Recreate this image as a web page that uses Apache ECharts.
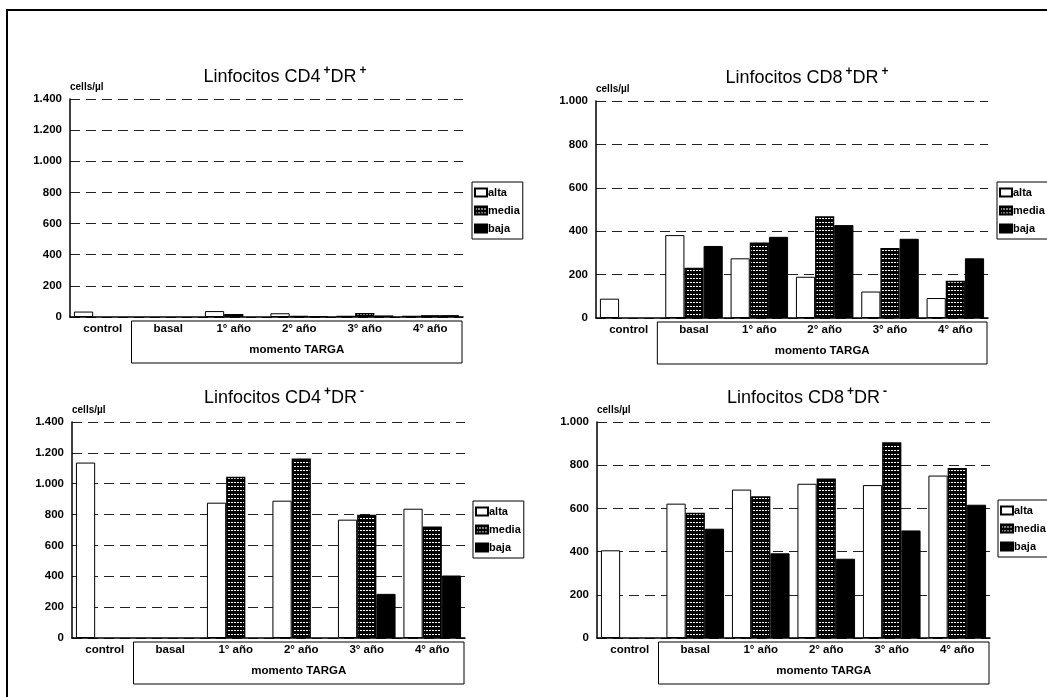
<!DOCTYPE html>
<html>
<head>
<meta charset="utf-8">
<script src="https://cdn.jsdelivr.net/npm/echarts@6/dist/echarts.min.js"></script>
<style>
  html, body { margin: 0; padding: 0; background: #fff; }
  #chart { width: 1047px; height: 697px; }
</style>
</head>
<body>
<div id="chart"></div>
<script>
// Time points of the TARGA follow-up plus the control group
const categories = ['control', 'basal', '1° año', '2° año', '3° año', '4° año'];
const seriesNames = ['alta', 'media', 'baja'];

// CD4+DR+ (cells/µl)
const cd4PosAlta  = [35, null, 38, 24, 8, 8];
const cd4PosMedia = [null, null, 20, 8, 25, 12];
const cd4PosBaja  = [null, null, null, 5, 10, 12];

// CD8+DR+ (cells/µl)
const cd8PosAlta  = [89, 382, 275, 190, 122, 92];
const cd8PosMedia = [null, 232, 348, 469, 323, 172];
const cd8PosBaja  = [null, 332, 374, 428, 365, 275];

// CD4+DR- (cells/µl)
const cd4NegAlta  = [1137, null, 877, 890, 767, 838];
const cd4NegMedia = [null, null, 1045, 1163, 799, 722];
const cd4NegBaja  = [null, null, null, null, 286, 405];

// CD8+DR- (cells/µl)
const cd8NegAlta  = [406, 622, 687, 714, 708, 752];
const cd8NegMedia = [null, 580, 656, 738, 906, 787];
const cd8NegBaja  = [null, 506, 392, 367, 498, 617];

const panelTitles = [
  ['CD4', '+', '+'],
  ['CD8', '+', '+'],
  ['CD4', '+', '-'],
  ['CD8', '+', '-']
];
const yMax = [1400, 1000, 1400, 1000];
const yStep = 200;
const groupLabel = 'momento TARGA';
const unitLabel = 'cells/µl';

const panelData = [
  [cd4PosAlta, cd4PosMedia, cd4PosBaja],
  [cd8PosAlta, cd8PosMedia, cd8PosBaja],
  [cd4NegAlta, cd4NegMedia, cd4NegBaja],
  [cd8NegAlta, cd8NegMedia, cd8NegBaja]
];

const FONT = '"Liberation Sans", Arial, Helvetica, sans-serif';

// Black fill crossed by rows of short white dashes
function stripePattern() {
  const c = document.createElement('canvas');
  c.width = 3; c.height = 4;
  const g = c.getContext('2d');
  g.fillStyle = '#000';
  g.fillRect(0, 0, 3, 4);
  g.fillStyle = '#fff';
  g.fillRect(0, 2, 2, 1);
  return c;
}
const stripes = { image: stripePattern(), repeat: 'repeat' };

const barStyles = [
  { color: '#fff', borderColor: '#000', borderWidth: 1 },
  { color: stripes, borderColor: '#000', borderWidth: 1.5 },
  { color: '#000', borderColor: '#000', borderWidth: 1 }
];

const grids = [
  { left: 70,  top: 99,  width: 393, height: 218 },
  { left: 596, top: 101, width: 392, height: 217 },
  { left: 72,  top: 422, width: 393, height: 216 },
  { left: 597, top: 422, width: 393, height: 216 }
];
const titlePos = [
  { left: 280, top: 60 },
  { left: 802, top: 61 },
  { left: 279, top: 381 },
  { left: 802, top: 381 }
];
const legendPos = [
  { left: 472, top: 182 },
  { left: 997, top: 182 },
  { left: 473, top: 501 },
  { left: 998, top: 500 }
];

function thousands(v) {
  return String(v).replace(/\B(?=(\d{3})+(?!\d))/g, '.');
}

const option = {
  animation: false,
  backgroundColor: '#fff',
  textStyle: { fontFamily: FONT },
  title: panelTitles.map((t, i) => ({
    text: '{n|Linfocitos ' + t[0] + '}{s|' + t[1] + '}{n|DR}{s|' + t[2] + '}',
    left: titlePos[i].left,
    top: titlePos[i].top,
    textAlign: 'center',
    textStyle: {
      fontWeight: 'normal',
      rich: {
        n: { fontFamily: FONT, fontSize: 18, fontWeight: 'normal', color: '#000', lineHeight: 21, verticalAlign: 'bottom' },
        s: { fontFamily: FONT, fontSize: 12, fontWeight: 'bold', color: '#000', lineHeight: 21,
             verticalAlign: 'top', padding: [0, 0, 0, 3] }
      }
    }
  })),
  legend: legendPos.map(p => ({
    data: seriesNames,
    orient: 'vertical',
    left: p.left,
    top: p.top,
    itemWidth: 12,
    itemHeight: 8,
    itemGap: 5,
    padding: [4, 3, 4, 2],
    borderColor: '#000',
    borderWidth: 1,
    icon: 'rect',
    selectedMode: false,
    textStyle: { fontFamily: FONT, fontSize: 11, fontWeight: 'bold', color: '#000', lineHeight: 13, padding: [0, 0, 0, -4] }
  })),
  grid: grids,
  xAxis: grids.map((g, i) => ({
    type: 'category',
    gridIndex: i,
    data: categories,
    axisLine: { lineStyle: { color: '#000', width: 1.5 } },
    axisTick: { show: false },
    axisLabel: { fontFamily: FONT, fontSize: 11.5, fontWeight: 'bold', color: '#000', margin: 6 }
  })),
  yAxis: grids.map((g, i) => ({
    type: 'value',
    gridIndex: i,
    min: 0,
    max: yMax[i],
    interval: yStep,
    name: unitLabel,
    nameLocation: 'end',
    nameGap: 7,
    nameTextStyle: { fontFamily: FONT, fontSize: 10, fontWeight: 'bold', color: '#000', align: 'left', verticalAlign: 'bottom' },
    axisLine: { show: true, lineStyle: { color: '#000', width: 1.5 } },
    axisTick: { show: false },
    axisLabel: { fontFamily: FONT, fontSize: 11.5, fontWeight: 'bold', color: '#000', margin: 8, formatter: thousands },
    splitLine: { show: true, lineStyle: { color: '#222', width: 1, type: [10, 6] } }
  })),
  series: []
};

panelData.forEach((set, i) => {
  set.forEach((values, k) => {
    option.series.push({
      name: seriesNames[k],
      type: 'bar',
      xAxisIndex: i,
      yAxisIndex: i,
      data: values,
      barGap: '0%',
      barCategoryGap: '12%',
      itemStyle: barStyles[k]
    });
  });
});

const chart = echarts.init(document.getElementById('chart'), null, { renderer: 'canvas' });
chart.setOption(option);

// Bracket under the TARGA time points, placed from each panel's own axes
const graphic = [{
  type: 'rect',
  shape: { x: 7, y: 10, width: 1200, height: 900 },
  style: { fill: 'none', stroke: '#000', lineWidth: 2 },
  silent: true
}];
grids.forEach((g, i) => {
  const c0 = chart.convertToPixel({ xAxisIndex: i }, categories[0]);
  const c1 = chart.convertToPixel({ xAxisIndex: i }, categories[1]);
  const cLast = chart.convertToPixel({ xAxisIndex: i }, categories[categories.length - 1]);
  const step = c1 - c0;
  const y0 = chart.convertToPixel({ yAxisIndex: i }, 0);
  const x1 = (c0 + c1) / 2 - 4;
  const x2 = cLast + step / 2 - 1;
  graphic.push({
    type: 'rect',
    shape: { x: x1, y: y0 + 4, width: x2 - x1, height: 42 },
    style: { fill: 'none', stroke: '#000', lineWidth: 1 },
    silent: true,
    z: 0
  });
  graphic.push({
    type: 'text',
    x: (x1 + x2) / 2,
    y: y0 + 33,
    style: {
      text: groupLabel,
      font: 'bold 11.5px ' + FONT,
      fill: '#000',
      align: 'center',
      verticalAlign: 'middle'
    },
    silent: true
  });
});
chart.setOption({ graphic: graphic });
</script>
</body>
</html>
